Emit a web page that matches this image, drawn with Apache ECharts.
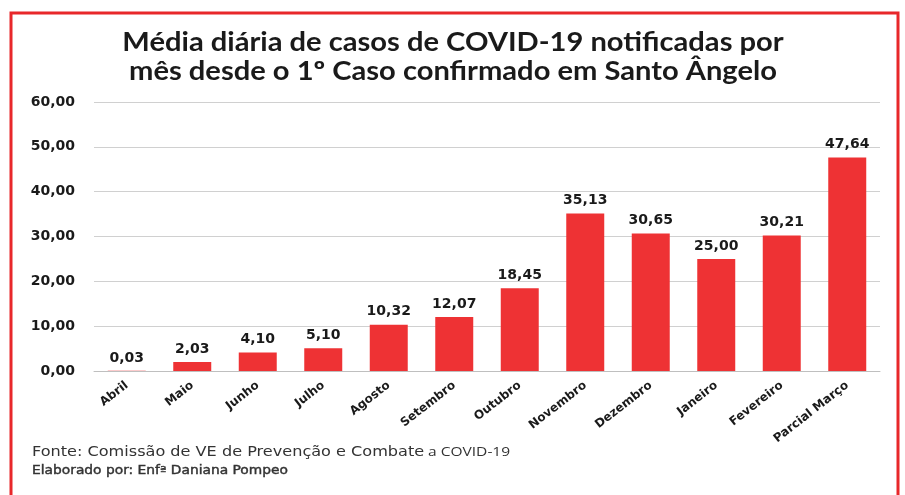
<!DOCTYPE html>
<html><head><meta charset="utf-8">
<script src="https://cdn.jsdelivr.net/npm/echarts@6/dist/echarts.min.js"></script>
<style>html,body{margin:0;padding:0;background:#fff}#c{width:905px;height:495px}</style>
</head><body><div id="c"></div>
<script>
var categories = ["Abril","Maio","Junho","Julho","Agosto","Setembro","Outubro","Novembro","Dezembro","Janeiro","Fevereiro","Parcial Março"];
var values = [0.03,2.03,4.10,5.10,10.32,12.07,18.45,35.13,30.65,25.00,30.21,47.64];
var titleLines = ["Média diária de casos de COVID-19 notificadas por","mês desde o 1º Caso confirmado em Santo Ângelo"];
var footer1 = "Fonte: Comissão de VE de Prevenção e Combate";
var footer1b = "a COVID-19";
var footer2 = "Elaborado por: Enfª Daniana Pompeo";
function fmt(v){return v.toFixed(2).replace('.',',');}
var chart = echarts.init(document.getElementById('c'));
chart.setOption({
  animation:false,
  graphic:[
    {type:'rect',shape:{x:11,y:13,width:887,height:500},style:{fill:'none',stroke:'#e8272a',lineWidth:3},silent:true},
    {type:'text',x:453,y:28,scaleX:1.12,style:{text:titleLines.join('\n'),font:'bold 26px Lato, sans-serif',fill:'#1a1a1a',textAlign:'center',lineHeight:29}},
    {type:'text',x:32,y:445,scaleX:1.15,style:{text:'{a|'+footer1+'} {b|'+footer1b+'}',rich:{a:{font:'14px "DejaVu Sans", sans-serif',fill:'#333'},b:{font:'13.5px "Open Sans", sans-serif',fill:'#333'}}}},
    {type:'text',x:32,y:465,scaleX:1.2,style:{text:footer2,font:'11.5px "DejaVu Sans", sans-serif',fill:'#333',stroke:'#333',lineWidth:0.4}}
  ],
  grid:{left:94,right:25,top:102,bottom:124},
  xAxis:{type:'category',data:categories,
    axisLine:{lineStyle:{color:'#bfbfbf'}},axisTick:{show:false},
    axisLabel:{rotate:38,interval:0,fontFamily:'"DejaVu Sans", sans-serif',fontWeight:'bold',fontSize:12,color:'#1a1a1a',margin:13}},
  yAxis:{type:'value',min:0,max:60,interval:10,
    axisLine:{show:false},axisTick:{show:false},
    splitLine:{lineStyle:{color:'#d0d0d0'}},
    axisLabel:{formatter:fmt,fontFamily:'"DejaVu Sans", sans-serif',fontWeight:'bold',fontSize:14,color:'#1a1a1a',margin:19}},
  series:[{type:'bar',data:values,barWidth:'58%',itemStyle:{color:'#ee3234'},
    label:{show:true,position:'top',formatter:function(p){return fmt(p.value);},fontFamily:'"DejaVu Sans", sans-serif',fontWeight:'bold',fontSize:14,color:'#1a1a1a',distance:6}}]
});
</script></body></html>
